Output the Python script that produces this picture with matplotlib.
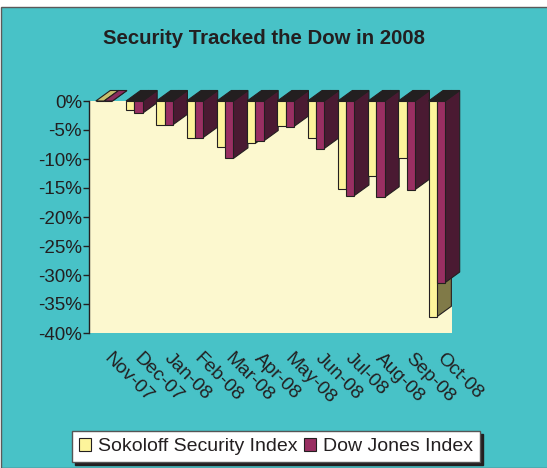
import numpy as np
import matplotlib.pyplot as plt
from matplotlib.patches import Polygon, Rectangle
from matplotlib.transforms import ScaledTranslation

plt.rcParams["font.family"] = ["Liberation Sans", "DejaVu Sans"]

# monthly change, percent
months = ["Nov-07", "Dec-07", "Jan-08", "Feb-08", "Mar-08", "Apr-08",
          "May-08", "Jun-08", "Jul-08", "Aug-08", "Sep-08", "Oct-08"]
sokoloff = [0.0, -1.5, -4.1, -6.3, -7.9, -7.3, -4.3, -6.3, -15.2, -12.9, -9.9, -37.2]
dow_jones = [0.0, -2.1, -4.1, -6.3, -9.9, -6.9, -4.4, -8.2, -16.3, -16.6, -15.3, -31.3]
yticks = list(range(0, -45, -5))

TEAL = "#48c2c7"
CREAM = "#fcf8cf"
EDGE = "#231f20"
series = [
    # name, values, front, side, top
    ("Sokoloff Security Index", sokoloff, "#fdf49b", "#807a48", "#c8c06e"),
    ("Dow Jones Index", dow_jones, "#992f62", "#4a1a32", "#8c2c5e"),
]

W, H, DPI = 547, 468, 100
fig = plt.figure(figsize=(W / DPI, H / DPI), dpi=DPI)
fig.patch.set_facecolor("white")
fig.add_artist(Rectangle((1 / W, 0), 1, 461 / H, transform=fig.transFigure,
                         facecolor=TEAL, edgecolor="#5a5a5a", lw=1, zorder=-10))

ax = fig.add_axes([89 / W, (H - 333) / H, 363 / W, 232 / H])
ax.set_facecolor(CREAM)
ax.set_xlim(-0.5, 11.5)
ax.set_ylim(-40, 0)

# fake 3d depth, in data units
DX = 14.5 / (363 / 12)
DY = 10.5 * 40 / 232

x = np.arange(len(months))
w = 0.275
handles = []
for k, (name, vals, front, side, top) in enumerate(series):
    offs = (k - 0.5) * w
    bars = ax.bar(x + offs, vals, w, color=front, edgecolor=EDGE, lw=0.8,
                  label=name, zorder=3)
    handles.append(bars)
    for rect, v in zip(bars, vals):
        x0 = rect.get_x()
        x1 = x0 + rect.get_width()
        side_pts = [(x1, 0), (x1 + DX, DY), (x1 + DX, v + DY), (x1, v)]
        ax.add_patch(Polygon(side_pts, closed=True, facecolor=side,
                             edgecolor=EDGE, lw=0.8, zorder=2 + 0.1 * k,
                             clip_on=False))
        ytop = max(v, 0)
        top_pts = [(x0, ytop), (x1, ytop), (x1 + DX, ytop + DY), (x0 + DX, ytop + DY)]
        ax.add_patch(Polygon(top_pts, closed=True,
                             facecolor=EDGE if v < 0 else top,
                             edgecolor=EDGE, lw=0.8, zorder=2.5, clip_on=False))

ax.set_yticks(yticks)
ax.set_yticklabels([f"{t}%" for t in yticks])
ax.tick_params(axis="y", direction="out", length=4, width=1, color=EDGE,
               labelsize=13.5, labelcolor=EDGE, pad=1)
ax.set_xticks(x)
ax.set_xticklabels(months, rotation=-45, ha="left", va="top",
                   rotation_mode="anchor", fontsize=13.8, color=EDGE)
ax.tick_params(axis="x", length=0, pad=12)
shift = ScaledTranslation(8 / DPI, 0, fig.dpi_scale_trans)
for lbl in ax.get_xticklabels():
    lbl.set_transform(lbl.get_transform() + shift)
for s in ["top", "right", "bottom"]:
    ax.spines[s].set_visible(False)
ax.spines["left"].set_color(EDGE)
ax.spines["left"].set_linewidth(1)

fig.text(264 / W, 1 - 38 / H, "Security Tracked the Dow in 2008",
         ha="center", va="center", fontsize=14.7, fontweight="bold", color=EDGE)

leg = fig.legend(handles, [s[0] for s in series], loc="upper left",
                 bbox_to_anchor=(72 / W, 1 - 431 / H), ncol=2, fontsize=14,
                 frameon=True, fancybox=False, edgecolor="#555555",
                 facecolor="white", framealpha=1, handlelength=0.65,
                 handleheight=0.65, handletextpad=0.35, columnspacing=0.3,
                 borderpad=0.35, borderaxespad=0,
                 shadow={"color": EDGE, "alpha": 1})
for t in leg.get_texts():
    t.set_color(EDGE)

fig.savefig("out.png", dpi=DPI)
